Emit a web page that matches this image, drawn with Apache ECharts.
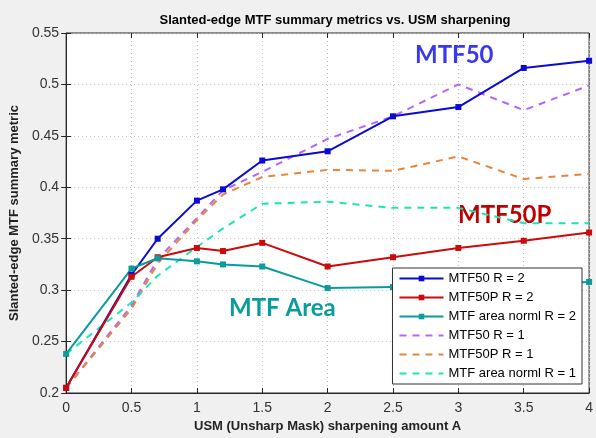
<!DOCTYPE html>
<html>
<head>
<meta charset="utf-8">
<script src="https://cdn.jsdelivr.net/npm/echarts@6/dist/echarts.min.js"></script>
<style>
  html, body { margin: 0; padding: 0; background: #f0f0f0; }
  #chart { width: 596px; height: 438px; }
</style>
</head>
<body>
<div id="chart"></div>
<script>
// USM amounts (x)
const usmAmount = [0, 0.5, 0.7, 1, 1.2, 1.5, 2, 2.5, 3, 3.5, 4];

// R = 2 (solid, markers)
const mtf50R2 = [0.205, 0.315, 0.350, 0.387, 0.398, 0.426, 0.435, 0.469, 0.478, 0.516, 0.523];
const mtf50pR2 = [0.205, 0.313, 0.332, 0.341, 0.338, 0.346, 0.323, 0.332, 0.341, 0.348, 0.356];
const mtfAreaR2 = [0.238, 0.321, 0.331, 0.328, 0.325, 0.323, 0.302, 0.303, 0.303, 0.305, 0.308];

// R = 1 (dashed)
const mtf50R1 = [0.205, 0.285, 0.330, 0.370, 0.397, 0.415, 0.447, 0.469, 0.500, 0.475, 0.499];
const mtf50pR1 = [0.205, 0.282, 0.326, 0.368, 0.393, 0.410, 0.417, 0.416, 0.430, 0.408, 0.413];
const mtfAreaR1 = [0.238, 0.288, 0.314, 0.342, 0.360, 0.384, 0.386, 0.380, 0.380, 0.365, 0.365];

const legendNames = ['MTF50 R = 2', 'MTF50P R = 2', 'MTF area norml R = 2',
                     'MTF50 R = 1', 'MTF50P R = 1', 'MTF area norml R = 1'];

const chart = echarts.init(document.getElementById('chart'));

function pairs(ys) {
  return usmAmount.map((x, i) => [x, ys[i]]);
}

function solid(name, color, ys) {
  return {
    name: name,
    type: 'line',
    data: pairs(ys),
    symbol: 'rect',
    symbolSize: 6,
    itemStyle: { color: color },
    lineStyle: { color: color, width: 2 },
    z: 3
  };
}

function dashed(name, color, ys) {
  return {
    name: name,
    type: 'line',
    data: pairs(ys),
    symbol: 'none',
    itemStyle: { color: color },
    lineStyle: { color: color, width: 2, type: [7, 6] },
    z: 2
  };
}

const font = 'Liberation Sans, Arial, sans-serif';

const option = {
  backgroundColor: '#f0f0f0',
  animation: false,
  title: {
    text: 'Slanted-edge MTF summary metrics vs. USM sharpening',
    left: 330,
    top: 9,
    textAlign: 'center',
    textStyle: { fontFamily: font, fontSize: 13, fontWeight: 'bold', color: '#000' }
  },
  grid: {
    left: 66, right: 2, top: 33, bottom: 45,
    show: true,
    backgroundColor: '#ffffff',
    borderColor: '#262626',
    borderWidth: 1
  },
  legend: {
    orient: 'vertical',
    right: 14,
    top: 268,
    backgroundColor: '#ffffff',
    borderColor: '#333',
    borderWidth: 1,
    padding: [4, 6, 4, 6],
    itemWidth: 44,
    itemHeight: 7,
    itemGap: 6,
    textStyle: { fontFamily: font, fontSize: 13, color: '#000' },
    data: legendNames.map((n, i) => i < 3 ? { name: n } : { name: n, itemStyle: { opacity: 0 } })
  },
  xAxis: [{
    type: 'value',
    min: 0, max: 4, interval: 0.5,
    name: 'USM (Unsharp Mask) sharpening amount A',
    nameLocation: 'middle',
    nameGap: 25,
    nameTextStyle: { fontFamily: font, fontSize: 13, fontWeight: 'bold', color: '#222' },
    axisLine: { lineStyle: { color: '#262626' } },
    axisTick: { inside: true, length: 5, lineStyle: { color: '#262626' } },
    axisLabel: { fontFamily: font, fontSize: 14, color: '#333', margin: 8 },
    splitLine: { show: true, lineStyle: { color: '#bdbdbd', type: [1, 3] } }
  }, {
    type: 'value', position: 'top',
    min: 0, max: 4, interval: 0.5,
    axisLine: { show: false },
    axisTick: { inside: true, length: 5, lineStyle: { color: '#262626' } },
    axisLabel: { show: false },
    splitLine: { show: false }
  }],
  yAxis: [{
    type: 'value',
    min: 0.2, max: 0.55, interval: 0.05,
    name: 'Slanted-edge MTF summary metric',
    nameLocation: 'middle',
    nameGap: 37,
    nameTextStyle: { fontFamily: font, fontSize: 13, fontWeight: 'bold', color: '#222' },
    axisLine: { show: true, lineStyle: { color: '#262626' } },
    axisTick: { show: true, inside: true, length: 5, lineStyle: { color: '#262626' } },
    axisLabel: { fontFamily: font, fontSize: 14, color: '#333', margin: 7 },
    splitLine: { show: true, lineStyle: { color: '#bdbdbd', type: [1, 3] } }
  }, {
    type: 'value', position: 'right',
    min: 0.2, max: 0.55, interval: 0.05,
    axisLine: { show: false },
    axisTick: { show: true, inside: true, length: 5, lineStyle: { color: '#262626' } },
    axisLabel: { show: false },
    splitLine: { show: false }
  }],
  series: [
    solid(legendNames[0], '#0a0ad2', mtf50R2),
    solid(legendNames[1], '#cc0a0a', mtf50pR2),
    solid(legendNames[2], '#0a9c9c', mtfAreaR2),
    dashed(legendNames[3], '#b266ff', mtf50R1),
    dashed(legendNames[4], '#e8853a', mtf50pR1),
    dashed(legendNames[5], '#1ae6b3', mtfAreaR1)
  ],
  graphic: [
    { type: 'text', left: 415, top: 43,
      style: { text: 'MTF50', fill: '#3838f0', font: 'bold 24px Lato, "Open Sans", sans-serif' } },
    { type: 'text', left: 458, top: 203,
      style: { text: 'MTF50P', fill: '#c00000', font: 'bold 24px Lato, "Open Sans", sans-serif' } },
    { type: 'text', left: 229, top: 296,
      style: { text: 'MTF Area', fill: '#0a9c9c', font: 'bold 24px Lato, "Open Sans", sans-serif' } }
  ]
};

chart.setOption(option);
</script>
</body>
</html>
